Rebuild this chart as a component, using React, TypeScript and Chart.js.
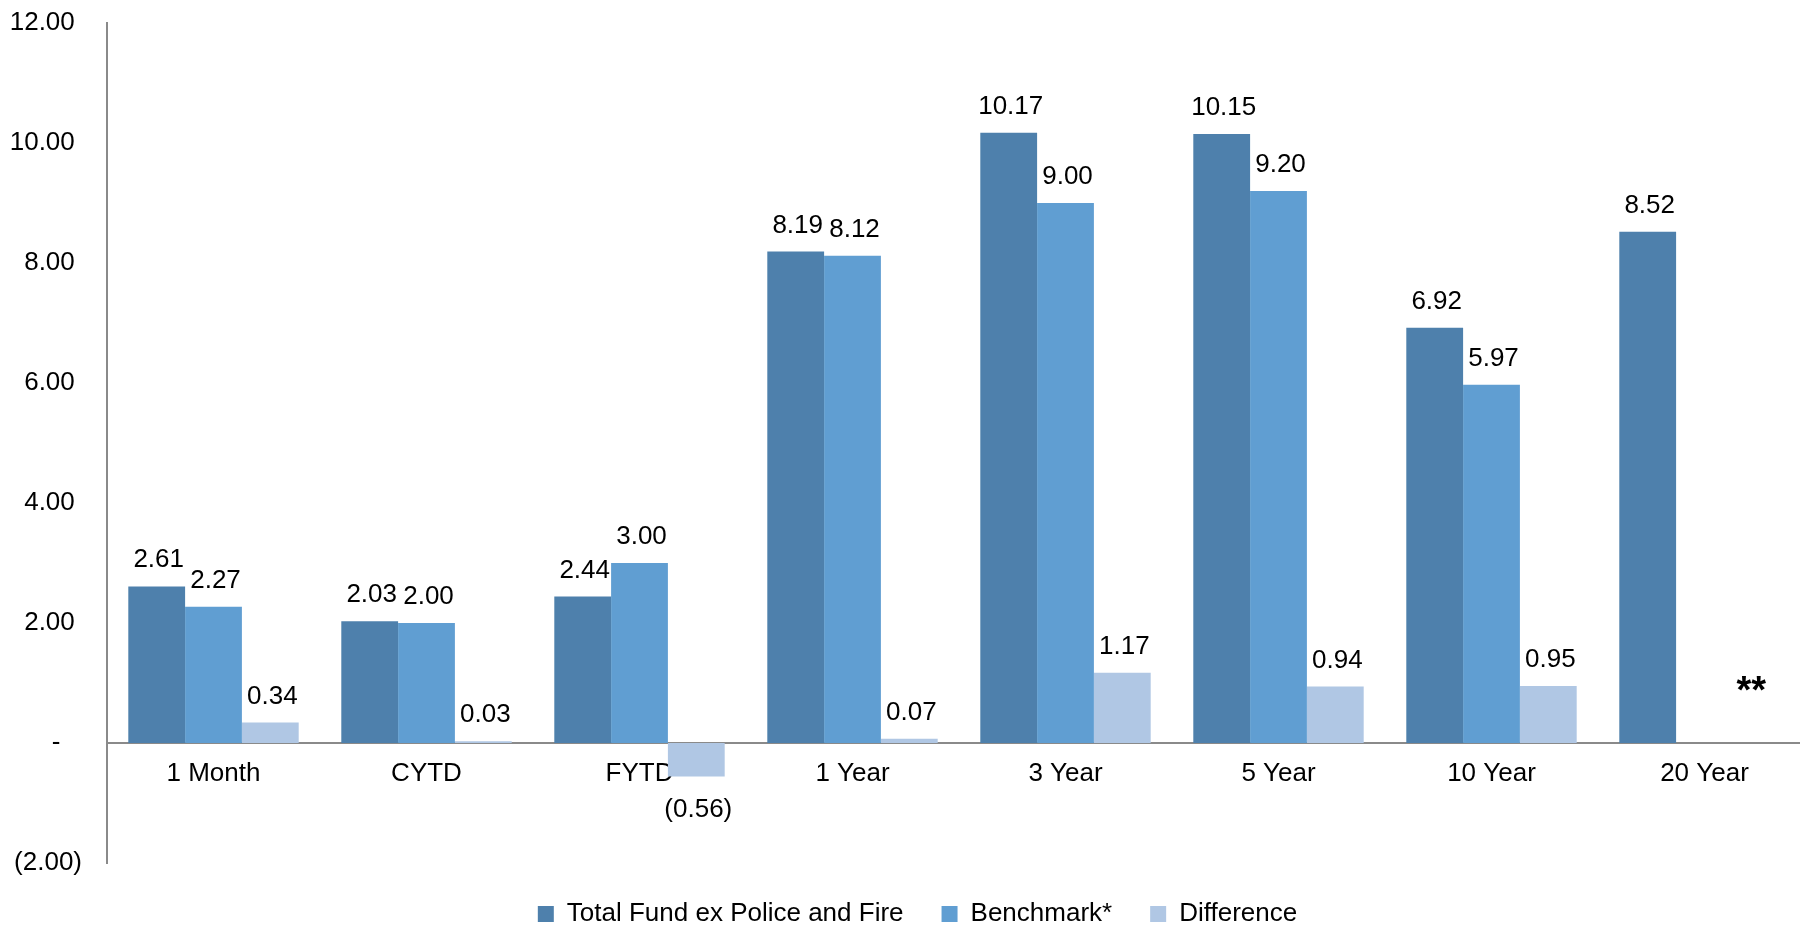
import React, { useEffect, useRef } from 'react';
import { Chart, registerables } from 'chart.js';

Chart.register(...registerables);

const FONT = "'Liberation Sans', Arial, Helvetica, sans-serif";

const categories = ['1 Month', 'CYTD', 'FYTD', '1 Year', '3 Year', '5 Year', '10 Year', '20 Year'];
const seriesNames = ['Total Fund ex Police and Fire', 'Benchmark*', 'Difference'];
const totalFund = [2.61, 2.03, 2.44, 8.19, 10.17, 10.15, 6.92, 8.52];
const benchmark = [2.27, 2.0, 3.0, 8.12, 9.0, 9.2, 5.97, null];
const difference = [0.34, 0.03, -0.56, 0.07, 1.17, 0.94, 0.95, null];
const differenceNotes = ['', '', '', '', '', '', '', '**'];
const noteValue = 0.66;
const seriesColors = ['#4E80AC', '#609ED2', '#B0C7E4'];
const yMin = -2;
const yMax = 12;
const yStep = 2;

const formatTick = (v: number) => {
  if (v === 0) return '-   ';
  if (v < 0) return `(${Math.abs(v).toFixed(2)})`;
  return `${v.toFixed(2)} `;
};

const valueLabels = {
  id: 'valueLabels',
  afterDatasetsDraw(chart: any) {
    const ctx = chart.ctx;
    ctx.save();
    ctx.font = `26px ${FONT}`;
    ctx.fillStyle = '#000000';
    ctx.textAlign = 'center';
    ctx.textBaseline = 'alphabetic';
    chart.data.datasets.forEach((ds: any, di: number) => {
      const meta = chart.getDatasetMeta(di);
      meta.data.forEach((el: any, i: number) => {
        const v = ds.data[i];
        if (v === null || v === undefined) return;
        const { x, y } = el.getProps(['x', 'y'], true);
        if (v >= 0) ctx.fillText(v.toFixed(2), x + 2, y - 19);
        else ctx.fillText(`(${Math.abs(v).toFixed(2)})`, x + 2, y + 40);
      });
    });
    const meta = chart.getDatasetMeta(2);
    const yScale = chart.scales.y;
    ctx.font = `bold 38px ${FONT}`;
    differenceNotes.forEach((note, i) => {
      if (!note) return;
      const el = meta.data[i];
      const x = el && isFinite(el.x) ? el.x : chart.scales.x.getPixelForValue(i);
      ctx.fillText(note, x - 10, yScale.getPixelForValue(noteValue));
    });
    ctx.restore();
  },
};

const legendShift = {
  id: 'legendShift',
  afterLayout(chart: any) {
    const lg = chart.legend;
    if (lg) {
      lg.left += 12;
      lg.right += 12;
    }
  },
};

export default function App() {
  const canvasRef = useRef<HTMLCanvasElement | null>(null);

  useEffect(() => {
    if (!canvasRef.current) return;
    const chart = new Chart(canvasRef.current, {
      type: 'bar',
      data: {
        labels: categories,
        datasets: [
          { label: seriesNames[0], data: totalFund, backgroundColor: seriesColors[0], borderWidth: 0 },
          { label: seriesNames[1], data: benchmark as any, backgroundColor: seriesColors[1], borderWidth: 0 },
          { label: seriesNames[2], data: difference as any, backgroundColor: seriesColors[2], borderWidth: 0 },
        ],
      },
      options: {
        responsive: false,
        animation: false,
        categoryPercentage: 0.8,
        barPercentage: 1.0,
        layout: { padding: { top: 23, left: 0, right: 0, bottom: -10 } },
        plugins: {
          tooltip: { enabled: false },
          legend: {
            position: 'bottom',
            labels: {
              font: { size: 26, family: FONT },
              color: '#000000',
              boxWidth: 16,
              boxHeight: 16,
              padding: 38,
            },
          },
        },
        scales: {
          x: {
            type: 'category',
            position: { y: 0 } as any,
            grid: { display: false, drawTicks: false },
            border: { display: true, color: '#8A8A8A', width: 2 },
            ticks: {
              font: { size: 26, family: FONT },
              color: '#000000',
              padding: 15,
              maxRotation: 0,
              autoSkip: false,
            },
          },
          y: {
            min: yMin,
            max: yMax,
            grid: { display: false, drawTicks: false },
            border: { display: true, color: '#8A8A8A', width: 2 },
            ticks: {
              stepSize: yStep,
              font: { size: 26, family: FONT },
              color: '#000000',
              padding: 25,
              callback: (v: any) => formatTick(Number(v)),
            },
            afterFit: (scale: any) => {
              scale.width = 107;
              scale.paddingTop = 0;
              scale.paddingBottom = 0;
            },
          },
        },
      },
      plugins: [valueLabels, legendShift],
    });
    return () => chart.destroy();
  }, []);

  return (
    <div style={{ position: 'absolute', left: 0, top: 0, width: 1800, height: 927, overflow: 'hidden', background: '#fff' }}>
      <canvas ref={canvasRef} width={1811} height={927} style={{ width: 1811, height: 927, display: 'block' }} />
    </div>
  );
}
